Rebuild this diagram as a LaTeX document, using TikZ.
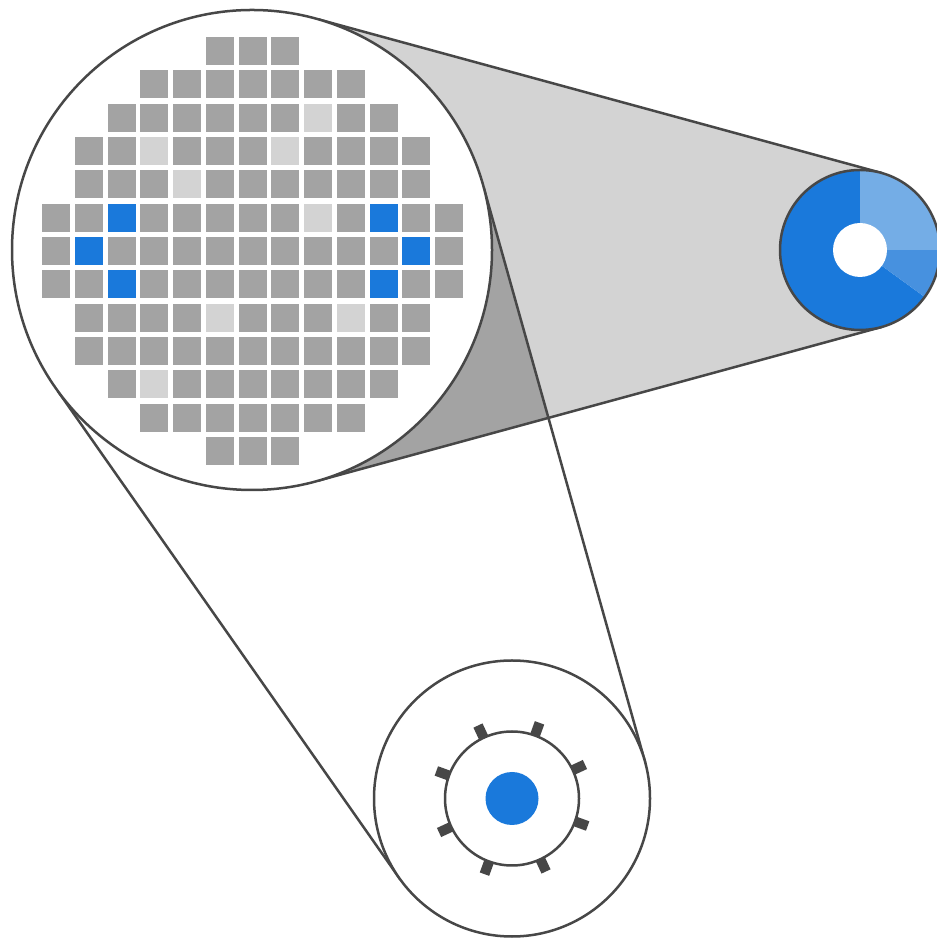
\documentclass[tikz,border=0pt]{standalone}
\usetikzlibrary{calc}
\pgfdeclarelayer{background}
\pgfsetlayers{background,main}
\definecolor{edge}{HTML}{474747}
\definecolor{conefill}{HTML}{D3D3D3}
\definecolor{shadefill}{HTML}{A3A3A3}
\definecolor{cell}{HTML}{A3A3A3}
\definecolor{cellpale}{HTML}{D3D3D3}
\definecolor{blueA}{HTML}{1A79DB}
\definecolor{blueB}{HTML}{4791DF}
\definecolor{blueC}{HTML}{74ADE6}
\tikzset{
  outline/.style={draw=edge, line width=1.875pt},
  disc/.style={circle, inner sep=0pt, outer sep=0pt, minimum size=#1},
  link/.style={draw=edge, line width=1.875pt},
  cellsq/.style={fill=#1},
}
% one square of the wafer map: column, row, colour
\newcommand\wafercell[3]{%
  \fill[cellsq=#3] ({56+32.75*#1-14},{887-33.33*#2-14}) rectangle ++(28,28);}
\begin{document}
\begin{tikzpicture}[x=0.75pt, y=0.75pt]
\clip (0,0) rectangle (937,938);

% wafer with its grid of dies
\node[disc=360pt, outline, fill=white] (wafer) at (252,688) {};
\foreach \r/\a/\b in {0/5/7, 1/3/9, 2/2/10, 3/1/11, 4/1/11, 5/0/12, 6/0/12,
                      7/0/12, 8/1/11, 9/1/11, 10/2/10, 11/3/9, 12/5/7}
  \foreach \c in {\a,...,\b} { \wafercell{\c}{\r}{cell} }
\foreach \c/\r in {8/2, 3/3, 7/3, 4/4, 8/5, 5/8, 9/8, 3/10}
  { \wafercell{\c}{\r}{cellpale} }
\foreach \c/\r in {2/5, 10/5, 1/6, 11/6, 2/7, 10/7}
  { \wafercell{\c}{\r}{blueA} }

% single die: ring chart
\fill[blueA] (860,688) -- ++(90:80) arc[start angle=90, end angle=324, radius=80] -- cycle;
\fill[blueB] (860,688) -- ++(-36:80) arc[start angle=-36, end angle=0, radius=80] -- cycle;
\fill[blueC] (860,688) -- ++(0:80) arc[start angle=0, end angle=90, radius=80] -- cycle;
\fill[white] (860,688) circle[radius=27];
\node[disc=120pt, outline] (die) at (860,688) {};

% bottom detail: hub with tabs and centre dot
\node[disc=207pt, outline, fill=white] (ring) at (512,139.5) {};
\foreach \a in {25,70,...,340}
  \fill[edge, shift={(ring.center)}, rotate=\a] (66,-5) rectangle (80.5,5);
\node[disc=100.5pt, outline, fill=white] (hub) at (ring.center) {};
\node[disc=39.75pt, fill=blueA] (dot) at (ring.center) {};

% tangent points
\coordinate (wt) at (wafer.74.74);
\coordinate (wb) at (wafer.-74.74);
\coordinate (dt) at (die.74.74);
\coordinate (db) at (die.-74.74);
\coordinate (wr) at (wafer.15.70);
\coordinate (wl) at (wafer.-144.94);
\coordinate (rr) at (ring.15.70);
\coordinate (rl) at (ring.-144.94);
\coordinate (cross) at (intersection of wr--rr and wb--db);

\begin{pgfonlayer}{background}
  \fill[conefill] (wt) -- (dt) -- (die.center) -- (db) -- (wb) -- (wafer.center) -- cycle;
  \fill[shadefill] (wr) -- (cross) -- (wb) -- (wafer.center) -- cycle;
  \draw[link] (wt) -- (dt);
  \draw[link] (wb) -- (db);
  \draw[link] (wr) -- (rr);
  \draw[link] (wl) -- (rl);
\end{pgfonlayer}
\end{tikzpicture}
\end{document}
